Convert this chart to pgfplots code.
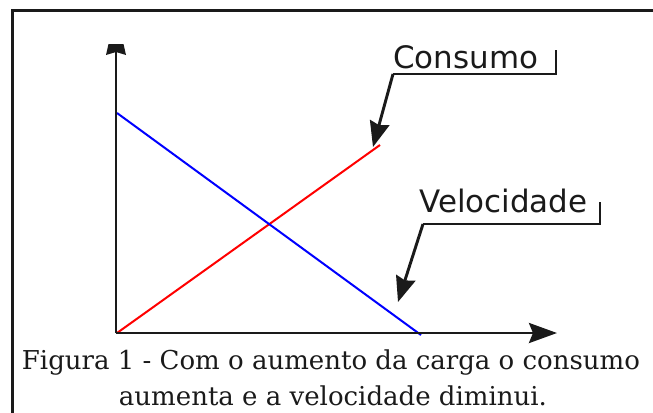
\documentclass[border=0pt]{standalone}
\usepackage{fontspec}
\setmainfont{DejaVu Serif}
\newfontfamily\labfont{DejaVu Sans}
\usepackage{pgfplots}
\pgfplotsset{compat=1.18}
\usetikzlibrary{arrows.meta}
\definecolor{ink}{HTML}{1A1A1A}
\begin{document}
\begin{tikzpicture}
\begin{axis}[x=0.75pt,y=0.75pt,xmin=0,xmax=653,ymin=0,ymax=412,
  hide axis,clip=false,anchor=origin,at={(0,0)}]
% frame
\draw[ink,line width=1.9pt] (axis cs:12.5,-10) -- (axis cs:12.5,401.5) -- (axis cs:665,401.5);
% data lines
\addplot[red,line width=1.5pt] coordinates {(117,79) (380,267)};
\addplot[blue,line width=1.5pt] coordinates {(117,299) (421,77)};
% axes
\draw[ink,line width=2.2pt,-{Stealth[length=21pt,width=15pt,inset=3pt]}] (axis cs:116,79) -- (axis cs:557,79);
\draw[ink,line width=2.2pt] (axis cs:116,79) -- (axis cs:116,360);
\fill[ink] (axis cs:108.5,368) -- (axis cs:123.5,368) -- (axis cs:126,357) -- (axis cs:116,360) -- (axis cs:106,357) -- cycle;
% callouts
\draw[ink,line width=2.2pt] (axis cs:556,362) -- (axis cs:556,338) -- (axis cs:393,338);
\draw[ink,line width=2.2pt,-{Stealth[length=19pt,width=15pt,inset=2pt]}] (axis cs:393,338) -- (axis cs:373,265);
\draw[ink,line width=2.2pt] (axis cs:600,210) -- (axis cs:600,188) -- (axis cs:423,188);
\draw[ink,line width=2.2pt,-{Stealth[length=19pt,width=15pt,inset=2pt]}] (axis cs:423,188) -- (axis cs:398,110);
\node[anchor=base west,inner sep=0pt,text=ink,font=\labfont\fontsize{23.2pt}{28pt}\selectfont] at (axis cs:393,344) {Consumo};
\node[anchor=base west,inner sep=0pt,text=ink,font=\labfont\fontsize{23.2pt}{28pt}\selectfont] at (axis cs:419,200) {Velocidade};
% caption
\node[anchor=base,inner sep=0pt,text=ink,font=\fontsize{19.5pt}{23pt}\selectfont] at (axis cs:331,43) {Figura 1 - Com o aumento da carga o consumo};
\node[anchor=base,inner sep=0pt,text=ink,font=\fontsize{19.5pt}{23pt}\selectfont] at (axis cs:333,7) {aumenta e a velocidade diminui.};
\end{axis}
\pgfresetboundingbox
\path[use as bounding box] (0,0) rectangle (489.75pt,309pt);
\end{tikzpicture}
\end{document}
